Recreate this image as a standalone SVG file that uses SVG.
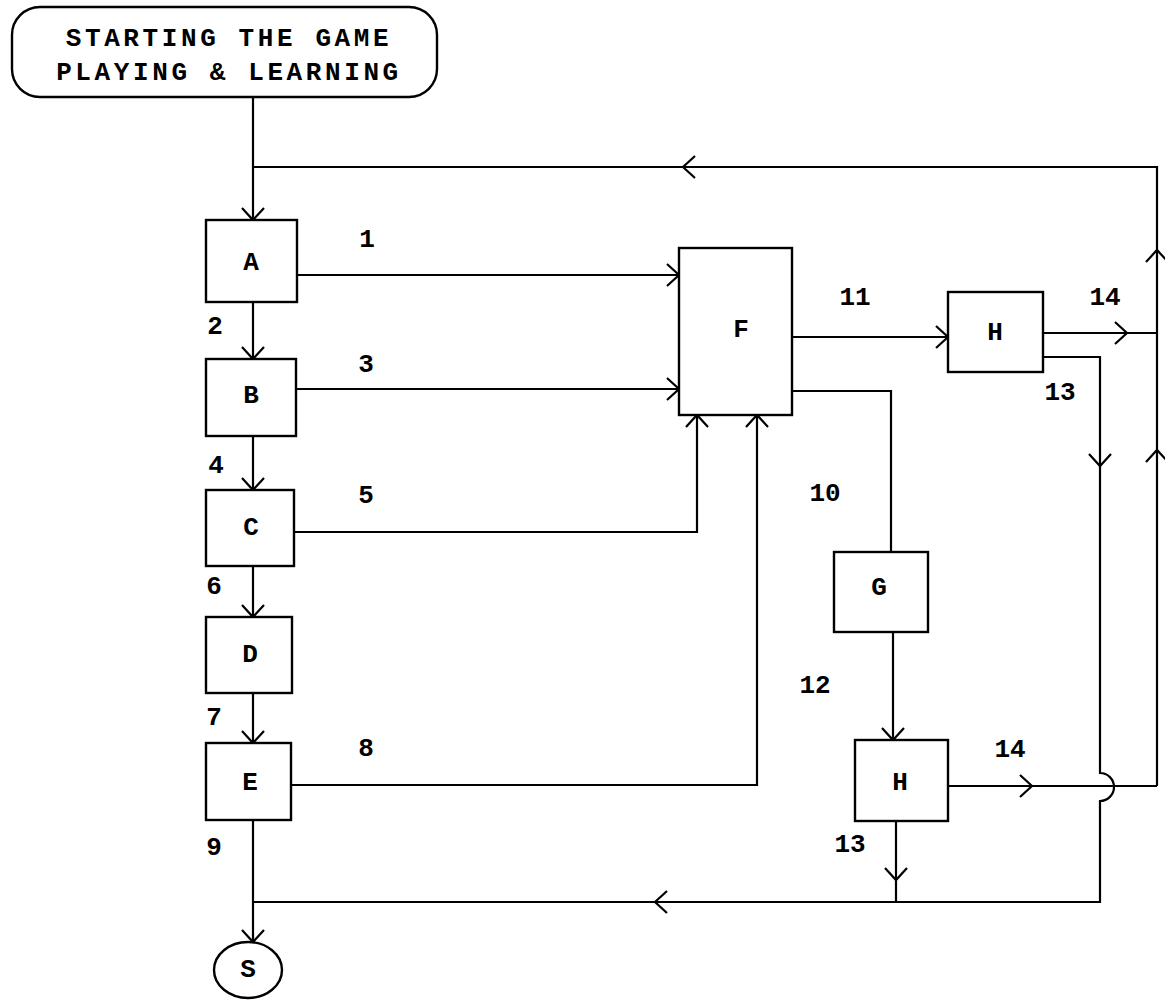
<svg xmlns="http://www.w3.org/2000/svg" xmlns:xlink="http://www.w3.org/1999/xlink" width="1165" height="1006" viewBox="0 0 1165 1006">
<style>
.ln{fill:none;stroke:#000;stroke-width:2.2;stroke-linejoin:miter}
.bx{fill:#fff;stroke:#000;stroke-width:2.4}
.t{font-family:"Liberation Mono","DejaVu Sans Mono",monospace;font-weight:bold;font-size:26px;fill:#000}
.n{text-anchor:middle;dominant-baseline:central}
.st{font-size:26px;letter-spacing:3.6px}
</style>
<defs>
<path id="ah" d="M-12,-11 L0,0 L-12,11" fill="none" stroke="#000" stroke-width="2.2"/>
</defs>
<rect width="1165" height="1006" fill="#fff"/>
<g id="connectors">
<path class="ln" d="M253,97 V220"/>
<path class="ln" d="M253,167 H1157 V786"/>
<path class="ln" d="M253,302 V359"/>
<path class="ln" d="M253,436 V490"/>
<path class="ln" d="M253,566 V617"/>
<path class="ln" d="M253,693 V743"/>
<path class="ln" d="M253,820 V942"/>
<path class="ln" d="M297,275 H679"/>
<path class="ln" d="M296,389 H679"/>
<path class="ln" d="M294,532 H697 V415"/>
<path class="ln" d="M291,785 H757 V415"/>
<path class="ln" d="M792,337 H948"/>
<path class="ln" d="M792,391 H891 V552"/>
<path class="ln" d="M893,632 V740"/>
<path class="ln" d="M1043,333 H1157"/>
<path class="ln" d="M948,786 H1157"/>
<path class="ln" d="M1043,357 H1100 V773 A14,14 0 0 1 1100,801 V902 H253"/>
<path class="ln" d="M896,821 V902"/>
<use xlink:href="#ah" transform="translate(683,167) rotate(180)"/>
<use xlink:href="#ah" transform="translate(253,220) rotate(90)"/>
<use xlink:href="#ah" transform="translate(253,359) rotate(90)"/>
<use xlink:href="#ah" transform="translate(253,490) rotate(90)"/>
<use xlink:href="#ah" transform="translate(253,617) rotate(90)"/>
<use xlink:href="#ah" transform="translate(253,743) rotate(90)"/>
<use xlink:href="#ah" transform="translate(253,942) rotate(90)"/>
<use xlink:href="#ah" transform="translate(679,275)"/>
<use xlink:href="#ah" transform="translate(679,389)"/>
<use xlink:href="#ah" transform="translate(697,415) rotate(-90)"/>
<use xlink:href="#ah" transform="translate(757,415) rotate(-90)"/>
<use xlink:href="#ah" transform="translate(948,337)"/>
<use xlink:href="#ah" transform="translate(893,740) rotate(90)"/>
<use xlink:href="#ah" transform="translate(1127,333)"/>
<use xlink:href="#ah" transform="translate(1032,786)"/>
<use xlink:href="#ah" transform="translate(1157,450) rotate(-90)"/>
<use xlink:href="#ah" transform="translate(1157,250) rotate(-90)"/>
<use xlink:href="#ah" transform="translate(1100,466) rotate(90)"/>
<use xlink:href="#ah" transform="translate(896,880) rotate(90)"/>
<use xlink:href="#ah" transform="translate(655,902) rotate(180)"/>
</g>
<g id="start">
<rect class="bx" x="12" y="7" width="425" height="90" rx="28" ry="28"/>
<text class="t st" x="229" y="46" text-anchor="middle">STARTING THE GAME</text>
<text class="t st" x="229" y="80" text-anchor="middle">PLAYING &amp; LEARNING</text>
</g>
<g id="A"><rect class="bx" x="206" y="220" width="91" height="82"/><text class="t n" x="251" y="263">A</text></g>
<g id="B"><rect class="bx" x="206" y="359" width="90" height="77"/><text class="t n" x="251" y="396">B</text></g>
<g id="C"><rect class="bx" x="206" y="490" width="88" height="76"/><text class="t n" x="251" y="528">C</text></g>
<g id="D"><rect class="bx" x="206" y="617" width="86" height="76"/><text class="t n" x="250" y="655">D</text></g>
<g id="E"><rect class="bx" x="206" y="743" width="85" height="77"/><text class="t n" x="250" y="783">E</text></g>
<g id="F"><rect class="bx" x="679" y="248" width="113" height="167"/><text class="t n" x="741" y="330">F</text></g>
<g id="G"><rect class="bx" x="834" y="552" width="94" height="80"/><text class="t n" x="879" y="588">G</text></g>
<g id="H1"><rect class="bx" x="948" y="292" width="95" height="80"/><text class="t n" x="995" y="333">H</text></g>
<g id="H2"><rect class="bx" x="855" y="740" width="93" height="81"/><text class="t n" x="900" y="783">H</text></g>
<g id="S"><ellipse class="bx" cx="248" cy="970" rx="34" ry="28"/><text class="t n" x="248" y="970">S</text></g>
<g id="labels">
<text class="t n" x="367" y="240">1</text>
<text class="t n" x="215" y="327">2</text>
<text class="t n" x="366" y="365">3</text>
<text class="t n" x="216" y="466">4</text>
<text class="t n" x="366" y="496">5</text>
<text class="t n" x="214" y="587">6</text>
<text class="t n" x="214" y="718">7</text>
<text class="t n" x="366" y="749">8</text>
<text class="t n" x="214" y="848">9</text>
<text class="t n" x="825" y="494">10</text>
<text class="t n" x="855" y="298">11</text>
<text class="t n" x="815" y="686">12</text>
<text class="t n" x="850" y="845">13</text>
<text class="t n" x="1060" y="393">13</text>
<text class="t n" x="1105" y="298">14</text>
<text class="t n" x="1010" y="750">14</text>
</g>
</svg>
